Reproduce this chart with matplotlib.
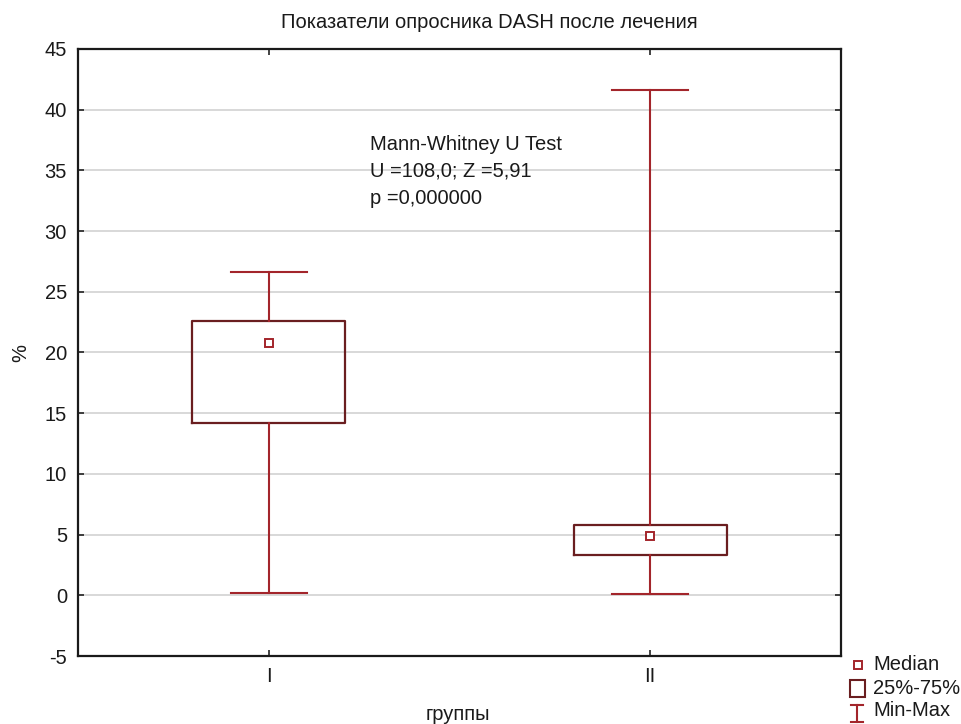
import matplotlib
matplotlib.use("Agg")
import matplotlib.pyplot as plt
from matplotlib.lines import Line2D
from matplotlib.patches import Rectangle

plt.rcParams['font.family'] = ['Liberation Sans', 'DejaVu Sans']

groups = ["I", "II"]
mins = [0.2, 0.1]
q1s = [14.2, 3.35]
medians = [20.8, 4.9]
q3s = [22.6, 5.8]
maxs = [26.6, 41.6]
yticks = [-5, 0, 5, 10, 15, 20, 25, 30, 35, 40, 45]

W, H = 962, 724
fig = plt.figure(figsize=(W / 100, H / 100), dpi=100)
ax = fig.add_axes([78 / W, 1 - 656 / H, (841 - 78) / W, (656 - 49) / H])

whisk_c = "#A3252B"
box_c = "#6A1E20"
txt_c = "#1a1a1a"

stats = []
for g, lo, a, m, b, hi in zip(groups, mins, q1s, medians, q3s, maxs):
    stats.append(dict(label=g, whislo=lo, q1=a, med=m, q3=b, whishi=hi, mean=m, fliers=[]))

ax.bxp(stats, positions=[1, 2], widths=0.4, capwidths=0.2, showmeans=True,
       showfliers=False,
       boxprops=dict(color=box_c, linewidth=1.6),
       whiskerprops=dict(color=whisk_c, linewidth=1.5),
       capprops=dict(color=whisk_c, linewidth=1.5),
       medianprops=dict(linestyle="none"),
       meanprops=dict(marker="s", markersize=6, markerfacecolor="white",
                      markeredgecolor=whisk_c, markeredgewidth=1.4),
       zorder=3)

ax.set_xlim(0.5, 2.5)
ax.set_ylim(-5, 45)
ax.set_yticks(yticks)
ax.set_yticklabels([str(t) for t in yticks])
ax.set_xticks([1, 2])
ax.set_xticklabels(groups)
ax.yaxis.grid(True, color="#D8D8D8", linewidth=1.4, zorder=0)
ax.set_axisbelow(True)
ax.tick_params(direction="in", length=4, width=1.2, top=True, right=True,
               labelsize=14.5, colors="#222222", labelcolor=txt_c, pad=8)
for s in ax.spines.values():
    s.set_linewidth(1.6)
    s.set_color("#1a1a1a")

ax.set_ylabel("%", fontsize=14.5, color=txt_c, labelpad=10)

def fx(px):
    return px / W

def fy(py):
    return 1 - py / H

fig.text(fx(489), fy(22), "Показатели опросника DASH после лечения", fontsize=14.5,
         color=txt_c, ha="center", va="center")
fig.text(fx(458), fy(714), "группы", fontsize=14.5, color=txt_c, ha="center", va="center")

ax.text(1.265, 37.95, "Mann-Whitney U Test\nU =108,0; Z =5,91\np =0,000000",
        fontsize=14.5, color=txt_c, va="top", ha="left", linespacing=1.55)

# legend (figure coordinates)
fig.add_artist(Line2D([fx(858)], [fy(665)], marker="s", markersize=5.5,
                      markerfacecolor="white", markeredgecolor=whisk_c,
                      markeredgewidth=1.4, linestyle="none"))
fig.add_artist(Rectangle((fx(850), fy(697)), fx(865) - fx(850), fy(680) - fy(697),
                         facecolor="white", edgecolor=box_c, linewidth=1.5))
fig.add_artist(Line2D([fx(857), fx(857)], [fy(705), fy(722)], color=whisk_c, linewidth=1.5))
fig.add_artist(Line2D([fx(851), fx(863)], [fy(705), fy(705)], color=whisk_c, linewidth=1.5))
fig.add_artist(Line2D([fx(851), fx(863)], [fy(722), fy(722)], color=whisk_c, linewidth=1.5))
for py, t in [(664, "Median"), (688, "25%-75%"), (711, "Min-Max")]:
    fig.text(fx(873), fy(py), t, fontsize=14.5, color=txt_c, va="center", ha="left")

fig.savefig("out.png", dpi=100)
